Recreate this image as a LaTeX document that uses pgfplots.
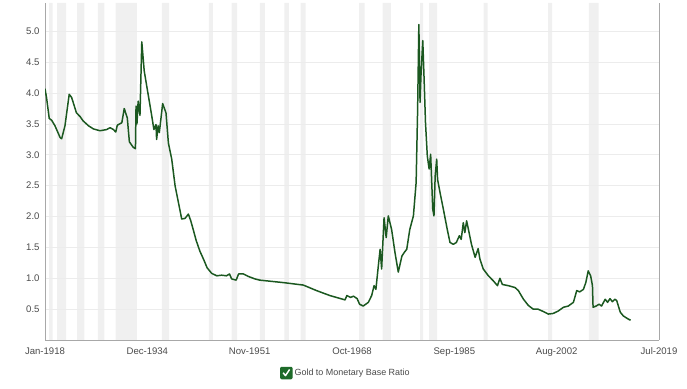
\documentclass[border=0pt]{standalone}
\usepackage{pgfplots}
\pgfplotsset{compat=1.18}
\usepackage{pgfplotstable}
\usepackage{fontspec}
\setmainfont{Liberation Sans}
\definecolor{linegreen}{HTML}{1B5820}
\definecolor{bandc}{HTML}{F0F0F0}
\definecolor{gridc}{HTML}{ECECEC}
\definecolor{axc}{HTML}{A8A8A8}
\definecolor{txt}{HTML}{4A4A4A}
\definecolor{chk}{HTML}{1E6B2A}

% recession bands: ybar interval, value 5.46 = band start, 0 = gap
\pgfplotstableread{
x y
1918.67 5.46
1919.25 0
1920.00 5.46
1921.50 0
1923.33 5.46
1924.50 0
1926.75 5.46
1927.83 0
1929.67 5.46
1933.17 0
1937.33 5.46
1938.50 0
1945.08 5.46
1945.75 0
1948.83 5.46
1949.75 0
1953.50 5.46
1954.33 0
1957.58 5.46
1958.33 0
1960.25 5.46
1961.08 0
1969.92 5.46
1970.83 0
1973.83 5.46
1975.17 0
1980.00 5.46
1980.50 0
1981.50 5.46
1982.83 0
1990.50 5.46
1991.17 0
2001.17 5.46
2001.83 0
2007.92 5.46
2009.50 0
2010.00 0
}\bands

\pgfplotstableread{
x y
1918.00 4.07
1918.25 3.93
1918.70 3.59
1919.10 3.56
1919.65 3.47
1920.50 3.28
1920.75 3.26
1921.30 3.47
1922.00 3.98
1922.40 3.93
1923.20 3.68
1923.80 3.62
1924.30 3.55
1925.20 3.47
1926.00 3.42
1927.10 3.39
1928.20 3.41
1928.75 3.44
1929.30 3.41
1929.70 3.37
1929.95 3.48
1930.70 3.52
1931.10 3.75
1931.60 3.60
1931.95 3.21
1932.60 3.12
1932.95 3.10
1933.05 3.79
1933.20 3.50
1933.40 3.87
1933.70 3.64
1934.00 4.83
1934.40 4.36
1935.10 3.95
1935.60 3.66
1936.00 3.41
1936.35 3.49
1936.45 3.25
1936.70 3.47
1936.90 3.36
1937.45 3.83
1938.00 3.68
1938.40 3.19
1938.95 2.93
1939.50 2.50
1940.05 2.23
1940.60 1.96
1941.15 1.97
1941.70 2.04
1942.10 1.93
1942.50 1.79
1943.00 1.61
1943.60 1.44
1944.20 1.31
1944.80 1.17
1945.55 1.08
1946.40 1.04
1947.20 1.05
1948.00 1.04
1948.50 1.07
1948.85 0.99
1949.60 0.97
1950.00 1.07
1950.80 1.07
1951.60 1.03
1952.70 0.99
1953.50 0.97
1957.40 0.93
1960.70 0.89
1962.90 0.80
1965.10 0.72
1967.60 0.65
1967.90 0.72
1968.50 0.69
1969.00 0.71
1969.60 0.67
1970.00 0.58
1970.60 0.55
1971.45 0.61
1972.00 0.72
1972.40 0.88
1972.70 0.82
1973.10 1.20
1973.40 1.47
1973.65 1.15
1974.05 1.98
1974.40 1.66
1974.75 2.01
1975.30 1.79
1975.85 1.42
1976.40 1.10
1977.00 1.36
1977.40 1.42
1977.80 1.47
1978.30 1.79
1978.90 2.01
1979.35 2.55
1979.60 3.74
1979.80 5.11
1980.00 3.85
1980.15 4.28
1980.45 4.85
1980.65 4.28
1980.90 3.52
1981.20 2.98
1981.50 2.77
1981.75 3.01
1982.10 2.12
1982.30 2.01
1982.50 2.66
1982.75 2.93
1982.90 2.60
1983.30 2.39
1983.85 2.12
1984.50 1.79
1984.95 1.58
1985.50 1.55
1986.00 1.58
1986.50 1.69
1986.80 1.63
1987.15 1.90
1987.40 1.74
1987.70 1.93
1988.00 1.79
1988.50 1.55
1989.10 1.34
1989.60 1.48
1989.90 1.31
1990.45 1.15
1991.30 1.04
1992.10 0.96
1992.80 0.88
1993.20 1.00
1993.60 0.90
1994.60 0.88
1995.70 0.85
1996.25 0.80
1997.10 0.66
1997.90 0.56
1998.70 0.50
1999.50 0.50
2000.40 0.46
2001.20 0.42
2002.00 0.43
2002.85 0.47
2003.70 0.53
2004.50 0.55
2005.35 0.61
2005.90 0.80
2006.40 0.78
2007.00 0.82
2007.40 0.93
2007.80 1.12
2008.20 1.04
2008.50 0.88
2008.60 0.53
2009.10 0.55
2009.60 0.58
2010.00 0.55
2010.60 0.66
2011.00 0.61
2011.40 0.67
2011.80 0.62
2012.20 0.66
2012.50 0.64
2013.10 0.45
2013.60 0.39
2014.40 0.34
2014.80 0.32
}\ratio

\begin{document}
\begin{tikzpicture}
\begin{axis}[
  set layers=standard,
  scale only axis, width=614bp, height=337bp,
  xmin=1918, xmax=2019.5, ymin=0, ymax=5.46,
  axis x line*=bottom,
  axis y line*=box,
  axis line style={axc, line width=0.9pt},
  ytick={0.5,1,1.5,2,2.5,3,3.5,4,4.5,5},
  yticklabel style={/pgf/number format/fixed, /pgf/number format/fixed zerofill, /pgf/number format/precision=1, xshift=-2bp},
  xtick={1918,1934.917,1951.833,1968.75,1985.667,2002.583,2019.5},
  xticklabels={Jan-1918,Dec-1934,Nov-1951,Oct-1968,Sep-1985,Aug-2002,Jul-2019},
  /pgf/number format/assume math mode=true,
  ymajorgrids, grid style={gridc, line width=0.8pt},
  major tick length=0pt,
  tick label style={font=\fontsize{9.6}{11}\selectfont, text=txt},
  xticklabel style={yshift=-4bp},
  legend style={at={(0.49,-0.098)}, anchor=center, draw=none, fill=none,
    font=\fontsize{9}{10}\selectfont, text=txt, inner sep=0pt},
  legend cell align=left,
]
\coordinate (O) at (rel axis cs:0,0);
\addplot[ybar interval, fill=bandc, draw=none, forget plot, on layer=axis background] table[x=x,y=y] {\bands};
\addplot[linegreen, line width=1.5pt, line join=round,
  legend image code/.code={
    \fill[chk, rounded corners=0.8pt] (0bp,-5.5bp) rectangle (11bp,5.5bp);
    \draw[white, line width=1.5pt] (2.3bp,0.3bp) -- (4.7bp,-2.6bp) -- (8.8bp,3.6bp);
  }] table[x=x,y=y] {\ratio};
\addlegendentry{Gold to Monetary Base Ratio}
\end{axis}
\pgfresetboundingbox
\path (O) ++(-45bp,-49bp) rectangle ++(687bp,389bp);
\end{tikzpicture}
\end{document}
